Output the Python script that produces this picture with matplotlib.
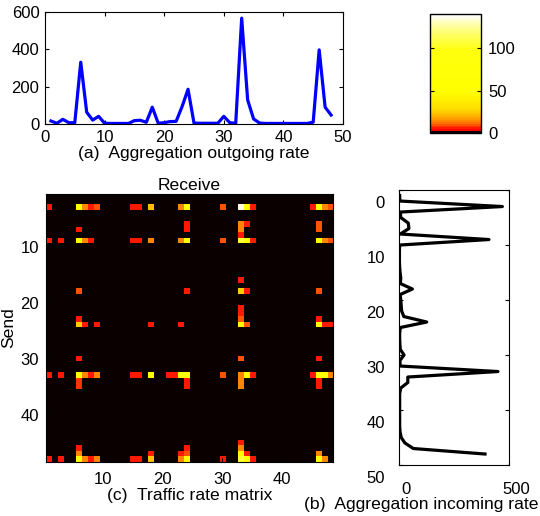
import numpy as np
import matplotlib
matplotlib.use("Agg")
import matplotlib.pyplot as plt
import matplotlib.transforms as mtransforms
from matplotlib.colors import LinearSegmentedColormap

plt.rcParams['font.family'] = ['Liberation Sans', 'DejaVu Sans']
plt.rcParams['font.size'] = 12

# node index 1..48
nodes = np.arange(1, 49)

# (a) aggregation outgoing rate, one value per receiving node
outgoing_rate = [16, 4, 25, 7, 7, 331, 63, 21, 41, 4,
                 3, 3, 3, 3, 18, 20, 9, 90, 4, 7,
                 13, 14, 93, 186, 5, 4, 4, 4, 4, 41,
                 7, 4, 567, 129, 27, 5, 3, 3, 3, 3,
                 3, 3, 3, 3, 10, 397, 90, 48]

# (b) aggregation incoming rate, one value per sending node
incoming_rate = [3, 4, 470, 6, 8, 42, 45, 6, 409, 3,
                 2, 2, 2, 3, 5, 8, 6, 61, 5, 8,
                 10, 12, 22, 126, 6, 3, 3, 4, 6, 23,
                 4, 5, 450, 40, 40, 8, 3, 3, 3, 3,
                 3, 3, 3, 5, 10, 27, 65, 391]

# (c) traffic rate matrix, only the non zero cells (send row, receive col, rate)
send_rows = [3, 3, 3, 3, 3, 3, 3, 3, 3, 3, 3, 3, 3, 3, 3, 3, 3, 3,
             6, 6, 6, 6,
             7, 7, 7, 7,
             8,
             9, 9, 9, 9, 9, 9, 9, 9, 9, 9, 9, 9, 9, 9, 9, 9, 9,
             16,
             18, 18, 18, 18, 18,
             21, 22,
             23, 23, 23,
             24, 24, 24, 24, 24, 24, 24, 24, 24, 24,
             30, 30, 30,
             33, 33, 33, 33, 33, 33, 33, 33, 33, 33, 33, 33, 33, 33, 33, 33, 33, 33, 33, 33, 33,
             34, 34, 34, 34,
             35, 35, 35, 35,
             45,
             46, 46, 46,
             47, 47, 47, 47, 47, 47, 47,
             48, 48, 48, 48, 48, 48, 48, 48, 48, 48, 48, 48, 48, 48, 48, 48, 48]
recv_cols = [1, 6, 7, 8, 9, 15, 16, 18, 23, 24, 30, 33, 34, 35, 45, 46, 47, 48,
             24, 33, 34, 46,
             6, 24, 33, 46,
             33,
             1, 3, 6, 7, 8, 15, 16, 18, 23, 24, 30, 33, 34, 35, 46, 47, 48,
             33,
             6, 24, 33, 34, 46,
             33, 33,
             6, 33, 46,
             6, 7, 9, 18, 23, 33, 34, 46, 47, 48,
             6, 33, 46,
             1, 3, 6, 7, 8, 9, 15, 16, 18, 21, 22, 23, 24, 30, 33, 34, 35, 45, 46, 47, 48,
             6, 24, 33, 46,
             6, 24, 33, 46,
             33,
             6, 24, 33,
             6, 18, 23, 24, 33, 34, 46,
             1, 3, 6, 7, 8, 9, 15, 16, 18, 23, 24, 30, 33, 34, 35, 46, 47]
rates = [6, 60, 15, 6, 10, 6, 6, 22, 15, 60, 10, 135, 60, 6, 6, 60, 15, 10,
         6, 15, 6, 10,
         6, 6, 15, 10,
         6,
         6, 6, 60, 15, 6, 6, 6, 15, 15, 60, 10, 105, 60, 6, 60, 15, 10,
         6,
         10, 6, 25, 6, 10,
         6, 6,
         6, 10, 6,
         25, 6, 6, 6, 6, 60, 10, 60, 6, 6,
         6, 10, 6,
         6, 6, 60, 15, 6, 15, 6, 6, 60, 6, 6, 60, 60, 10, 15, 60, 6, 6, 80, 60, 15,
         8, 6, 15, 6,
         8, 6, 15, 6,
         6,
         6, 6, 15,
         15, 6, 6, 10, 60, 6, 15,
         6, 6, 60, 15, 6, 15, 6, 6, 22, 15, 60, 6, 105, 60, 6, 60, 15]

traffic = np.zeros((48, 48))
for r, c, v in zip(send_rows, recv_cols, rates):
    traffic[r - 1, c - 1] = v

# hot-like colormap, squeezed so that small rates are already orange/yellow
hot_nodes = [(0.0, (0.04, 0.0, 0.0)),
             (0.016, (1.0, 0.0, 0.0)),
             (0.04, (1.0, 0.15, 0.0)),
             (0.08, (1.0, 0.45, 0.0)),
             (0.12, (1.0, 0.65, 0.0)),
             (0.2, (1.0, 0.87, 0.0)),
             (0.35, (1.0, 1.0, 0.0)),
             (0.7, (1.0, 1.0, 0.05)),
             (0.87, (1.0, 1.0, 0.5)),
             (1.0, (1.0, 1.0, 1.0))]
cmap = LinearSegmentedColormap.from_list('squeezed_hot', hot_nodes, N=64)

label_size = 12.6

fig = plt.figure(figsize=(5.4, 5.16), dpi=100)


def px_shift(dx, dy):
    # offset in pixels (x right, y up)
    return mtransforms.ScaledTranslation(dx / 100.0, dy / 100.0, fig.dpi_scale_trans)


# top: outgoing rate
ax_out = fig.add_axes([0.0833, 0.7597, 0.5519, 0.2171])
ax_out.plot(nodes, outgoing_rate, color='#0000ff', linewidth=2.3)
ax_out.set_xlim(0, 50)
ax_out.set_ylim(0, 600)
ax_out.set_xticks([0, 10, 20, 30, 40, 50])
ax_out.set_yticks([0, 200, 400, 600])
ax_out.tick_params(direction='in', top=True, right=True, length=3, pad=4)
ax_out.set_xlabel('(a)  Aggregation outgoing rate', fontsize=label_size, labelpad=1)

# colorbar
ax_cb = fig.add_axes([0.7963, 0.7422, 0.0944, 0.2306])

# matrix
ax_mat = fig.add_axes([0.0852, 0.1047, 0.5315, 0.5194])
im = ax_mat.imshow(traffic, cmap=cmap, vmin=0, vmax=140, aspect='auto',
                   interpolation='nearest', extent=(0.5, 48.5, 48.5, 0.5))
ax_mat.set_xticks([10, 20, 30, 40])
ax_mat.set_yticks([10, 20, 30, 40])
ax_mat.tick_params(direction='in', length=3, pad=5)
ax_mat.tick_params(axis='x', pad=7)
ax_mat.set_title('Receive', fontsize=label_size, pad=3)
ax_mat.set_ylabel('Send', fontsize=label_size, labelpad=3)
ax_mat.set_xlabel('(c)  Traffic rate matrix', fontsize=label_size, labelpad=1)

cb = fig.colorbar(im, cax=ax_cb, ticks=[0, 50, 100])
cb.outline.set_linewidth(1.0)
ax_cb.tick_params(direction='in', left=True, right=True, length=3, pad=5)

# right: incoming rate
ax_in = fig.add_axes([0.7389, 0.0988, 0.2037, 0.5329])
ax_in.plot(incoming_rate, nodes, color='black', linewidth=2.3)
ax_in.set_xlim(0, 500)
ax_in.set_ylim(50, 0)
ax_in.set_xticks([0, 500])
ax_in.set_yticks([0, 10, 20, 30, 40, 50])
ax_in.tick_params(direction='in', top=True, right=True, length=3)
ax_in.tick_params(axis='y', pad=10)
ax_in.tick_params(axis='x', pad=12)

# matlab drew these labels a bit off their ticks
for lab in ax_in.get_yticklabels():
    lab.set_transform(lab.get_transform() + px_shift(0, -12))
for lab in ax_in.get_xticklabels():
    lab.set_transform(lab.get_transform() + px_shift(7, 0))

# label (b) sits left of centre, squeezed in against the right edge
fig.text(304 / 540, 1 - 505 / 516, '(b)  Aggregation incoming rate',
         fontsize=label_size, ha='left', va='center')

fig.savefig('out.png', dpi=100)
